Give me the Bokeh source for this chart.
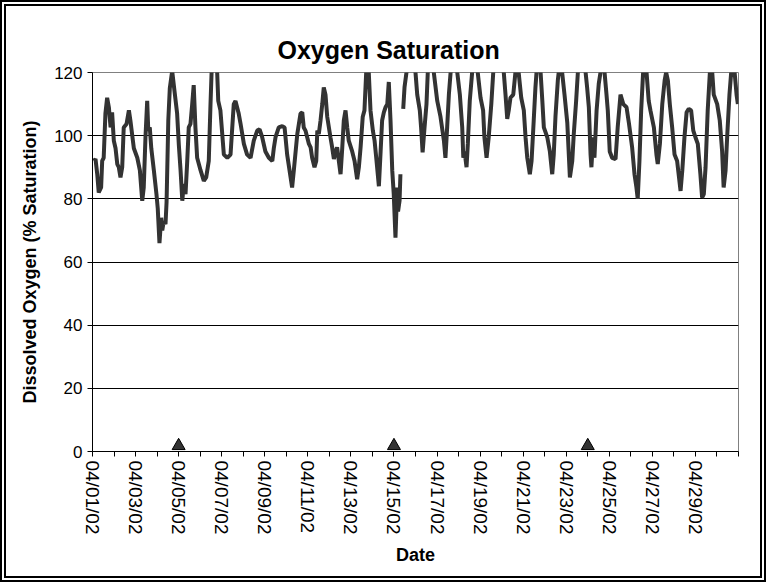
import math
from bokeh.plotting import figure
from bokeh.models import FixedTicker, Range1d, ColumnDataSource
from bokeh.embed import file_html
from bokeh.resources import INLINE

# Days since 04/01/02 00:00 and dissolved-oxygen saturation (%)
day = [0.06, 0.14, 0.22, 0.29, 0.40, 0.45, 0.52, 0.60, 0.68, 0.76, 0.84, 0.91, 0.99,
       1.07, 1.15, 1.22, 1.30, 1.38, 1.45, 1.58, 1.69, 1.76, 1.92, 2.08, 2.20, 2.31,
       2.38, 2.46, 2.54, 2.59, 2.66, 2.73, 2.85, 2.97, 3.03, 3.11, 3.19, 3.24, 3.31,
       3.39, 3.44, 3.52, 3.59, 3.70, 3.81, 3.93, 4.01, 4.09, 4.17, 4.24, 4.32, 4.40,
       4.47, 4.55, 4.63, 4.70, 4.78, 4.86, 5.02, 5.17, 5.28, 5.40, 5.48, 5.53, 5.64,
       5.79, 5.84, 5.94, 6.10, 6.26, 6.41, 6.56, 6.64, 6.79, 6.87, 7.03, 7.18, 7.34,
       7.49, 7.65, 7.76, 7.88, 8.03, 8.19, 8.35, 8.42, 8.50, 8.65, 8.81, 8.92, 9.04,
       9.20, 9.27, 9.35, 9.51, 9.66, 9.74, 9.81, 9.89, 9.97, 10.05, 10.13, 10.20,
       10.31, 10.39, 10.44, 10.51, 10.59, 10.67, 10.74, 10.82, 10.90, 11.05, 11.13,
       11.21, 11.29, 11.36, 11.44, 11.52, 11.60, 11.67, 11.75, 11.83, 11.90, 12.06,
       12.17, 12.29, 12.37, 12.45, 12.55, 12.63, 12.71, 12.77, 12.83, 12.91, 13.02,
       13.10, 13.19, 13.30, 13.38, 13.45, 13.53, 13.61, 13.69, 13.76, 13.84, 13.92,
       13.99, 14.07, 14.15, 14.19, 14.26, 14.30, 14.36, 14.43, 14.49, 14.58, 14.77,
       15.00, 15.08, 15.20, 15.26, 15.33, 15.42, 15.51, 15.57, 15.70, 15.85, 16.01,
       16.16, 16.32, 16.39, 16.47, 16.55, 16.63, 16.77, 16.94, 17.06, 17.17, 17.22,
       17.28, 17.37, 17.43, 17.52, 17.63, 17.76, 17.89, 18.02, 18.14, 18.20, 18.30,
       18.40, 18.52, 18.61, 18.86, 19.10, 19.18, 19.26, 19.33, 19.41, 19.54, 19.64,
       19.72, 19.79, 19.91, 20.03, 20.11, 20.19, 20.31, 20.39, 20.49, 20.57, 20.62,
       20.71, 20.81, 20.89, 20.96, 21.12, 21.24, 21.35, 21.42, 21.50, 21.61, 21.65,
       21.73, 21.81, 21.92, 22.05, 22.17, 22.28, 22.35, 22.46, 22.54, 22.71, 22.90,
       22.97, 23.05, 23.13, 23.17, 23.25, 23.31, 23.41, 23.51, 23.59, 23.68, 23.78,
       23.87, 23.93, 24.02, 24.13, 24.29, 24.39, 24.52, 24.65, 24.80, 24.91, 25.06,
       25.17, 25.26, 25.32, 25.40, 25.48, 25.57, 25.65, 25.73, 25.83, 25.91, 26.07,
       26.19, 26.25, 26.35, 26.46, 26.57, 26.64, 26.72, 26.81, 26.92, 27.03, 27.15,
       27.31, 27.39, 27.49, 27.59, 27.69, 27.80, 27.90, 28.00, 28.11, 28.23, 28.31,
       28.39, 28.47, 28.57, 28.67, 28.72, 28.78, 28.85, 29.01, 29.13, 29.24, 29.31,
       29.40, 29.48, 29.58, 29.66, 29.74, 29.82, 29.91, 29.97]
do_sat = [92, 92.6, 87.8, 82, 83.6, 92, 93, 107, 112, 109, 102.6, 107.4, 98.4,
          96, 91, 90, 86.8, 90, 102.6, 103.7, 108, 104.8, 96, 93, 89, 79.4,
          83.6, 99.5, 111, 101.6, 102.6, 96, 89, 81.5, 77, 66, 74, 70, 73,
          72, 79, 104.8, 115, 120.5, 114, 107, 97, 89, 79.4, 84.7, 81.5, 92,
          102.6, 103.7, 110, 116, 102.6, 93, 89, 85.7, 86.8, 92, 110, 120, 128,
          120, 111, 108, 94, 93, 94, 110, 111, 107, 104, 97.4, 94, 93,
          98.4, 101.6, 102, 99.5, 95, 93, 92, 96, 99.5, 102.6, 103, 102.6, 94,
          86.8, 83.6, 89, 100.5, 107, 107.4, 102.6, 101.6, 99.5, 97.4, 96.3, 93,
          90, 92, 101.6, 100.5, 104.8, 110, 115.3, 113, 106, 99.5, 96.3,
          92.6, 95, 96.3, 92, 87.8, 96.3, 104.8, 108, 102.6, 98.4, 95,
          92, 86.2, 90, 96.3, 106, 108, 120, 127, 120, 108, 101.6,
          98.4, 92, 84, 95, 104.8, 107.4, 109, 110, 117, 104.8, 89,
          81.5, 67.7, 83.6, 76, 79.4, 87.8, math.nan, 108.5, 115.3, 120, 130,
          120, 113, 108, 102.6, 94.7, 102.6, 110, 120, 128, 120, 111,
          106, 98.4, 93, 102.6, 113, 120, 128, 120, 113, 102.6, 93,
          95, 90, 97.4, 111, 120, 128, 120, 112, 108, 99.5, 93,
          99.5, 110, 120, 130, 120, 113, 105.3, 108, 112, 113, 120,
          124, 120, 112, 108, 99.5, 93, 87.8, 92, 104.8, 115.3, 120,
          127, 120, 111, 102.6, 99.5, 95, 87.8, 94, 106, 117.5, 120,
          125, 120, 113, 104, 86.8, 92, 100.5, 111, 120, 130, 120,
          115.3, 109, 94, 90, 99.5, 93, 108, 116.4, 120, 125, 120,
          113, 108, 95, 93, 92.6, 102.6, 113, 110, 109, 104, 96.3,
          87.8, 83.6, 80, 92, 108, 120, 124, 120, 111, 108, 102.6,
          94, 91, 97.4, 110, 117.5, 120, 117.5, 110, 102.6, 94, 92,
          82.5, 89, 99.5, 107.4, 108.5, 108, 101.6, 99.5, 97.4, 87.8, 80.4,
          81.5, 90, 108, 120, 124, 120, 113, 110, 104.8, 95, 83.6,
          89, 100.5, 113, 120, 124, 120, 113, 110]

# Event markers on the date axis
event_day = [4, 14, 23]
event_level = [1.8, 1.8, 1.8]

# Axis ticks
tick_days = list(range(0, 31))
date_labels = ["04/01/02", "", "04/03/02", "", "04/05/02", "", "04/07/02", "",
               "04/09/02", "", "04/11/02", "", "04/13/02", "", "04/15/02", "",
               "04/17/02", "", "04/19/02", "", "04/21/02", "", "04/23/02", "",
               "04/25/02", "", "04/27/02", "", "04/29/02", "", ""]
y_ticks = [0, 20, 40, 60, 80, 100, 120]

FONT = "Liberation Sans"

p = figure(width=766, height=582, output_backend="svg", toolbar_location=None,
           x_range=Range1d(0, 30), y_range=Range1d(0, 120),
           min_border_left=86, min_border_right=34, min_border_top=66,
           min_border_bottom=137, title="Oxygen Saturation")
p.styles = {"border": "6px double black"}

p.background_fill_color = "white"
p.border_fill_color = "white"
p.outline_line_color = "#808080"
p.outline_line_width = 1

p.title.text_font = FONT
p.title.text_font_size = "25px"
p.title.text_font_style = "bold"
p.title.text_color = "black"
p.title.align = "left"
p.title.offset = 185
p.title.standoff = 18

src = ColumnDataSource(dict(day=day, do_sat=do_sat))
p.line("day", "do_sat", source=src, line_color="#333333", line_width=4)

p.scatter(event_day, event_level, marker="triangle", size=13,
          fill_color="#333333", line_color="black", line_width=1)

p.xgrid.visible = False
p.ygrid.grid_line_color = "black"
p.ygrid.grid_line_width = 1
p.ygrid.ticker = FixedTicker(ticks=y_ticks)

xa = p.xaxis[0]
xa.ticker = FixedTicker(ticks=tick_days)
xa.major_label_overrides = {d: lab for d, lab in zip(tick_days, date_labels)}
xa.major_label_orientation = "vertical"
xa.axis_label = "Date"
xa.axis_label_text_font = FONT
xa.axis_label_text_font_size = "18px"
xa.axis_label_text_font_style = "bold"
xa.axis_label_standoff = 8
xa.major_label_text_font = FONT
xa.major_label_text_font_size = "19px"
xa.major_label_standoff = 4

ya = p.yaxis[0]
ya.ticker = FixedTicker(ticks=y_ticks)
ya.axis_label = "Dissolved Oxygen (% Saturation)"
ya.axis_label_text_font = FONT
ya.axis_label_text_font_size = "18px"
ya.axis_label_text_font_style = "bold"
ya.axis_label_standoff = 11
ya.major_label_text_font = FONT
ya.major_label_text_font_size = "17px"
ya.major_label_standoff = 5

for ax in (xa, ya):
    ax.axis_line_color = "black"
    ax.axis_line_width = 1
    ax.major_tick_line_color = "black"
    ax.major_tick_out = 5
    ax.major_tick_in = 0
    ax.minor_tick_line_color = None
    ax.major_label_text_color = "black"
    ax.axis_label_text_color = "black"

open("out.html", "w").write(file_html(p, INLINE))
